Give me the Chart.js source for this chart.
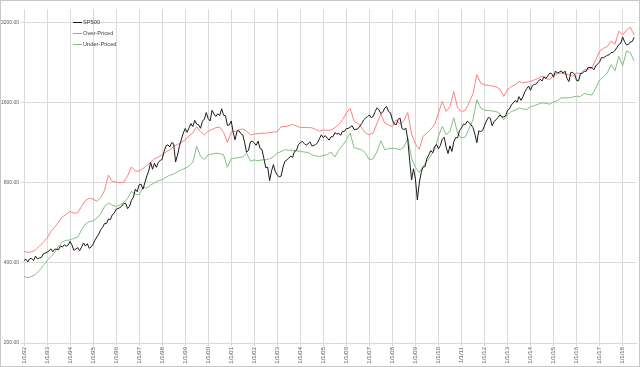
<!DOCTYPE html>
<html>
<head>
<meta charset="utf-8">
<script src="https://cdn.jsdelivr.net/npm/chart.js@4.4.0/dist/chart.umd.min.js"></script>
<style>
    html, body { margin: 0; padding: 0; background: #fff; }
    #wrap { width: 640px; height: 367px; }
</style>
</head>
<body>
<div id="wrap"><canvas id="chart" width="640" height="367"></canvas></div>
<script>
const startYear = 1992;
const yearTicks = [1992, 1993, 1994, 1995, 1996, 1997, 1998, 1999, 2000, 2001, 2002, 2003, 2004,
    2005, 2006, 2007, 2008, 2009, 2010, 2011, 2012, 2013, 2014, 2015, 2016, 2017, 2018];
const priceTicks = [200, 400, 800, 1600, 3200];

// SP500, one value per month from Jan 1992
const sp500 = [
    408.8, 412.7, 403.7, 414.9, 415.4, 408.1, 424.2, 414.0, 417.8, 418.7, 431.4, 435.7,
    438.8, 443.4, 451.7, 440.2, 450.2, 450.5, 448.1, 463.6, 458.9, 467.8, 461.8, 466.5,
    481.6, 467.1, 445.8, 450.9, 456.5, 444.3, 458.3, 475.5, 462.7, 472.4, 453.7, 459.3,
    470.4, 487.4, 500.7, 514.7, 533.4, 544.8, 562.1, 561.9, 584.4, 581.5, 605.4, 615.9,
    636.0, 640.4, 645.5, 654.2, 669.1, 670.6, 639.9, 652.0, 687.3, 705.3, 757.0, 740.7,
    786.2, 790.8, 757.1, 801.3, 848.3, 885.1, 954.3, 899.5, 947.3, 914.6, 955.4, 970.4,
    980.3, 1049.3, 1101.8, 1111.8, 1090.8, 1133.8, 1120.7, 957.3, 1017.0, 1098.7, 1163.6, 1229.2,
    1279.6, 1238.3, 1286.4, 1335.2, 1301.8, 1372.7, 1328.7, 1320.4, 1282.7, 1362.9, 1389.0, 1469.3,
    1394.5, 1366.4, 1498.6, 1452.4, 1420.6, 1454.6, 1430.8, 1517.7, 1436.5, 1429.4, 1315.2, 1320.3,
    1366.0, 1239.9, 1160.3, 1249.5, 1255.8, 1224.4, 1211.2, 1133.6, 1040.9, 1059.8, 1139.5, 1148.1,
    1130.2, 1106.7, 1147.4, 1076.9, 1067.1, 989.8, 911.6, 916.1, 815.3, 885.8, 936.3, 879.8,
    855.7, 841.2, 848.2, 916.9, 963.6, 974.5, 990.3, 1008.0, 996.0, 1050.7, 1058.2, 1111.9,
    1131.1, 1144.9, 1126.2, 1107.3, 1120.7, 1140.8, 1101.7, 1104.2, 1114.6, 1130.2, 1173.8, 1211.9,
    1181.3, 1203.6, 1180.6, 1156.9, 1191.5, 1191.3, 1234.2, 1220.3, 1228.8, 1207.0, 1249.5, 1248.3,
    1280.1, 1280.7, 1294.9, 1310.6, 1270.1, 1270.2, 1276.7, 1303.8, 1335.9, 1377.9, 1400.6, 1418.3,
    1438.2, 1406.8, 1420.9, 1482.4, 1530.6, 1503.4, 1455.3, 1474.0, 1526.8, 1549.4, 1481.1, 1468.4,
    1378.6, 1330.6, 1322.7, 1385.6, 1400.4, 1280.0, 1267.4, 1282.8, 1166.4, 968.8, 820.0, 903.3,
    825.9, 690.0, 797.9, 872.8, 919.1, 919.3, 987.5, 1020.6, 1057.1, 1036.2, 1095.6, 1115.1,
    1073.9, 1104.5, 1169.4, 1186.7, 1089.4, 1030.7, 1101.6, 1049.3, 1141.2, 1183.3, 1180.6, 1257.6,
    1286.1, 1327.2, 1325.8, 1363.6, 1345.2, 1320.6, 1292.3, 1218.9, 1131.4, 1253.3, 1247.0, 1257.6,
    1312.4, 1365.7, 1408.5, 1397.9, 1310.3, 1362.2, 1379.3, 1406.6, 1440.7, 1412.2, 1416.2, 1426.2,
    1498.1, 1514.7, 1569.2, 1597.6, 1630.7, 1606.3, 1685.7, 1633.0, 1681.6, 1756.5, 1805.8, 1848.4,
    1782.6, 1859.5, 1872.3, 1883.9, 1923.6, 1960.2, 1930.7, 2003.4, 1972.3, 2018.1, 2067.6, 2058.9,
    1995.0, 2104.5, 2067.9, 2085.5, 2107.4, 2063.1, 2103.8, 1972.2, 1920.0, 2079.4, 2080.4, 2043.9,
    1940.2, 1932.2, 2059.7, 2065.3, 2097.0, 2098.9, 2173.6, 2171.0, 2168.3, 2126.2, 2199.0, 2238.8,
    2278.9, 2363.6, 2362.7, 2384.2, 2411.8, 2423.4, 2470.3, 2471.7, 2519.4, 2575.3, 2647.6, 2673.6,
    2823.8, 2713.8, 2640.9, 2648.1, 2705.3, 2718.4, 2816.3
];

// valuation bands, one value every two months from Jan 1992
const overPriced = [
    442, 438, 440, 448, 462, 478,
    495, 525, 545, 570, 595, 610,
    624, 615, 618, 652, 685, 700,
    695, 682, 705, 750, 855, 810,
    805, 800, 805, 850, 918, 885,
    885, 905, 930, 955, 985, 1000,
    1020, 1045, 1065, 1095, 1115, 1135,
    1160, 1200, 1230, 1300, 1245, 1210,
    1250, 1270, 1290, 1295, 1240, 1135,
    1240, 1250, 1265, 1275, 1250, 1210,
    1220, 1225, 1228, 1230, 1235, 1240,
    1245, 1300, 1300, 1310, 1325, 1310,
    1290, 1292, 1290, 1288, 1270, 1250,
    1265, 1260, 1262, 1290, 1325, 1380,
    1465, 1525, 1365, 1340, 1290, 1230,
    1213, 1231, 1340, 1450, 1342, 1320,
    1303, 1380, 1330, 1370, 1470, 1220,
    1120, 1070, 1197, 1231, 1270, 1325,
    1463, 1618, 1483, 1547, 1763, 1528,
    1483, 1500, 1600, 1731, 2039, 1897,
    1867, 1860, 1850, 1836, 1800, 1690,
    1793, 1840, 1870, 1924, 1900, 1910,
    1924, 1950, 1975, 2011, 1980, 1950,
    2039, 2055, 2069, 2050, 2039, 2011,
    2069, 2060, 2128, 2140, 2156, 2323,
    2500, 2560, 2600, 2728, 2650, 2970,
    2880, 3000, 3070, 2870
];
const underPriced = [
    355, 352, 356, 362, 375, 390,
    408, 422, 438, 462, 480, 486,
    488, 495, 500, 532, 560, 572,
    575, 590, 612, 652, 671, 660,
    652, 660, 675, 700, 742, 725,
    721, 770, 765, 785, 800, 815,
    821, 840, 855, 862, 880, 895,
    908, 925, 955, 1096, 1005, 980,
    1020, 1025, 1034, 1030, 1020, 915,
    988, 990, 997, 1000, 1034, 965,
    975, 970, 975, 977, 985, 1000,
    1034, 1049, 1065, 1062, 1060, 1055,
    1049, 1045, 1040, 1020, 1010, 1005,
    1015, 1020, 1045, 1000, 1060, 1105,
    1160, 1231, 1085, 1074, 1065, 1034,
    977, 985, 1050, 1150, 1065, 1075,
    1080, 1075, 1065, 1090, 1178, 990,
    915, 875, 920, 965, 1010, 1065,
    1197, 1303, 1213, 1250, 1406, 1231,
    1178, 1190, 1280, 1381, 1642, 1528,
    1500, 1495, 1490, 1483, 1455, 1380,
    1444, 1483, 1500, 1528, 1515, 1510,
    1547, 1560, 1580, 1600, 1590, 1580,
    1610, 1630, 1669, 1669, 1669, 1680,
    1692, 1690, 1731, 1720, 1710, 1814,
    1950, 2000, 2069, 2225, 2110, 2390,
    2200, 2500, 2470, 2290
];

const gridColor = '#d9d9d9';
const textColor = '#595959';
const fontFamily = '"Liberation Sans", Arial, sans-serif';

function toPoints(values, perYear) {
    return values.map((v, i) => ({ x: startYear + i / perYear, y: v }));
}

// legend drawn inside the plot, top left
const innerLegend = {
    id: 'innerLegend',
    afterDraw(chart) {
        const { ctx, chartArea } = chart;
        ctx.save();
        ctx.font = '5.7px ' + fontFamily;
        ctx.textBaseline = 'middle';
        chart.data.datasets.forEach((ds, i) => {
            const x = chartArea.left + 49;
            const y = chartArea.top + 13 + i * 11;
            ctx.strokeStyle = ds.borderColor;
            ctx.lineWidth = 1;
            ctx.beginPath();
            ctx.moveTo(x, y + 0.5);
            ctx.lineTo(x + 9, y + 0.5);
            ctx.stroke();
            ctx.fillStyle = '#404040';
            ctx.fillText(ds.label, x + 10, y);
        });
        ctx.restore();
    }
};

const outerBorder = {
    id: 'outerBorder',
    afterDraw(chart) {
        const { ctx, width, height } = chart;
        ctx.save();
        ctx.strokeStyle = '#c8c8c8';
        ctx.lineWidth = 1;
        ctx.strokeRect(0.5, 0.5, width - 1, height - 1);
        ctx.restore();
    }
};

const ctx = document.getElementById('chart').getContext('2d');
new Chart(ctx, {
    type: 'line',
    data: {
        datasets: [
            { label: 'SP500', data: toPoints(sp500, 12), borderColor: '#1a1a1a' },
            { label: 'Over-Priced', data: toPoints(overPriced, 6), borderColor: '#ff8080' },
            { label: 'Under-Priced', data: toPoints(underPriced, 6), borderColor: '#80c080' }
        ]
    },
    options: {
        responsive: false,
        animation: false,
        devicePixelRatio: 1,
        layout: { padding: { top: 9, right: 4, left: 0, bottom: 0 } },
        elements: {
            line: { borderWidth: 1, tension: 0 },
            point: { radius: 0 }
        },
        plugins: {
            legend: { display: false },
            tooltip: { enabled: false }
        },
        scales: {
            x: {
                type: 'linear',
                min: 1992,
                max: 2018.58,
                afterBuildTicks: s => { s.ticks = yearTicks.map(v => ({ value: v })); },
                afterFit: s => { s.height = 24; },
                ticks: {
                    autoSkip: false,
                    minRotation: 90,
                    maxRotation: 90,
                    padding: 1,
                    color: textColor,
                    font: { size: 6, family: fontFamily },
                    callback: v => '1/1/' + String(v).slice(2)
                },
                grid: { color: gridColor, tickLength: 3 },
                border: { color: gridColor }
            },
            y: {
                type: 'logarithmic',
                min: 200,
                max: 3600,
                afterBuildTicks: s => { s.ticks = priceTicks.map(v => ({ value: v })); },
                afterFit: s => { s.width = 24; },
                ticks: {
                    autoSkip: false,
                    padding: 2,
                    color: textColor,
                    font: { size: 5, family: fontFamily },
                    callback: v => Number(v).toFixed(2)
                },
                grid: { color: gridColor, tickLength: 3 },
                border: { color: gridColor }
            }
        }
    },
    plugins: [innerLegend, outerBorder]
});
</script>
</body>
</html>
